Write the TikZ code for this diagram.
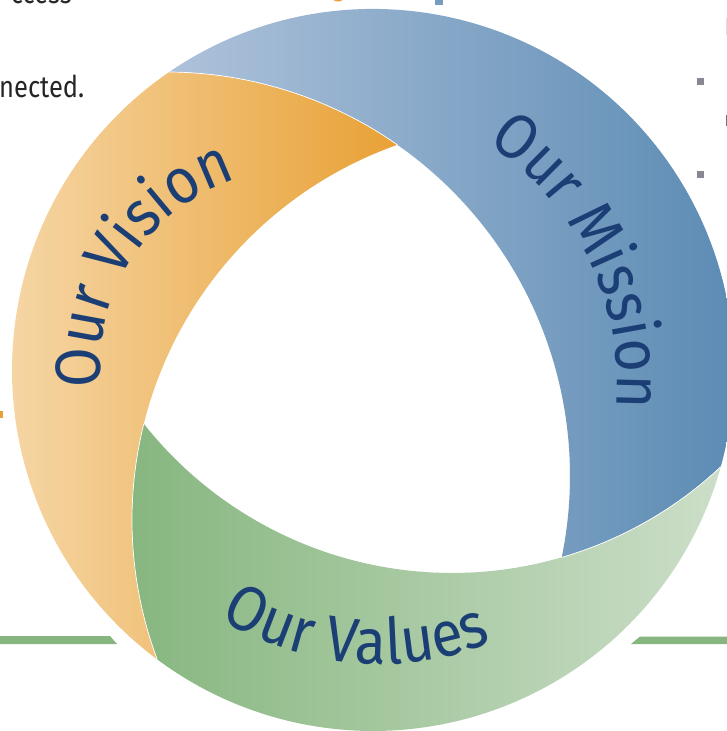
\documentclass[tikz,border=0pt]{standalone}
\usepackage{fontspec}
\usetikzlibrary{decorations.text,calc}
\newfontfamily\lblfont[FakeStretch=0.9]{Fira Sans}
\newfontfamily\bodyfont[FakeStretch=0.85]{Fira Sans}
\definecolor{orL}{HTML}{F6D7A8}
\definecolor{orR}{HTML}{E8A135}
\definecolor{blL}{HTML}{AEC2DA}
\definecolor{blR}{HTML}{5A8AB3}
\definecolor{grL}{HTML}{86B67F}
\definecolor{grR}{HTML}{CCDEC8}
\definecolor{navy}{HTML}{1B3F75}
\definecolor{bodygray}{HTML}{262626}
\definecolor{bulletgray}{HTML}{868993}
\definecolor{barGreen}{HTML}{87B57F}
\tikzset{
  sepline/.style={white, line width=0.7pt},
  ringlabel/.style={decorate, decoration={text along path, text color=navy,
      text align=center, text={|\lblfont\fontsize{64}{64}\selectfont|#1}}},
  bodytext/.style={inner sep=0pt, text=bodygray, font=\bodyfont\fontsize{30}{32}\selectfont},
  bulletsq/.style={fill=bulletgray},
}
\begin{document}
\begin{tikzpicture}[x=1pt,y=-1pt]
\path[use as bounding box] (0,0) rectangle (727,731);
\clip (0,0) rectangle (727,731);
% centres and key points (image pixel coordinates, y downwards)
\coordinate (O)  at (373,370);
\coordinate (Co) at (530,520);
\coordinate (Cb) at (166,476);
\coordinate (Cg) at (452,180);
\coordinate (To) at (157.2,659.4);
\coordinate (Tb) at (169.2,72.0);
\coordinate (Tg) at (720.8,466.7);
\coordinate (J1) at (397.3,144.8);
\coordinate (J2) at (561.7,557.4);
\coordinate (J3) at (143.8,423.8);
\coordinate (Cvis) at (298,367);
\coordinate (Cmis) at (328,384);
\coordinate (Cval) at (380,359);

% side bars
\fill[barGreen] (0,636) -- (110,636) -- (117,644) -- (0,644) -- cycle;
\fill[barGreen] (640,636.5) -- (727,636.5) -- (727,644) -- (631,644) -- cycle;

% Vision band (orange)
\shade[left color=orL, right color=orR]
  (To) arc[start angle=126.71, end angle=235.63, radius=361]
       arc[start angle=-89.55, end angle=-55.07, radius=404]
       arc[start angle=250.53, end angle=159.50, radius=398] -- cycle;
% Mission band (blue)
\shade[left color=blL, right color=blR]
  (Tb) arc[start angle=235.63, end angle=375.54, radius=361]
       arc[start angle=46.85, end angle=73.79, radius=393]
       arc[start angle=11.62, end angle=-89.55, radius=404] -- cycle;
% Values band (green)
\shade[left color=grL, right color=grR]
  (Tg) arc[start angle=15.54, end angle=126.71, radius=361]
       arc[start angle=159.50, end angle=193.99, radius=398]
       arc[start angle=141.65, end angle=46.85, radius=393] -- cycle;

% thin separations where bands overlap
\draw[sepline] (Tb) arc[start angle=-89.55, end angle=-55.07, radius=404];
\draw[sepline] (J3) arc[start angle=193.99, end angle=159.50, radius=398];
\draw[sepline] (J2) arc[start angle=73.79, end angle=46.85, radius=393];

% curved labels
\path[ringlabel={Our Vision}] ([shift={(153:198)}]Cvis) arc[start angle=153, end angle=273, radius=198];
\path[ringlabel={Our Mission}] ([shift={(-85.9:289)}]Cmis) arc[start angle=-85.9, end angle=34.1, radius=289];
\path[ringlabel={Our Values}] ([shift={(155:305)}]Cval) arc[start angle=155, end angle=35, radius=305];

% cropped surroundings
\node[bodytext, anchor=base east] (txtCcess) at (72,3.5) {ccess};
\node[bodytext, anchor=base west] (txtNected) at (-1,97) {nected.};
\fill[bulletsq] (697,78) rectangle (704,85);
\fill[bulletsq] (697,171) rectangle (704,178);
\fill[gray!25] (725.5,18) rectangle (728,35);
\fill[gray!110] (725.5,115) rectangle (728,126);
\fill[orR] (338,-3) ellipse[x radius=6, y radius=4.5];
\fill[blR!85] (435,-2) rectangle (443,4.5);
\fill[orR] (-1,411) rectangle (3,418);
\end{tikzpicture}
\end{document}
